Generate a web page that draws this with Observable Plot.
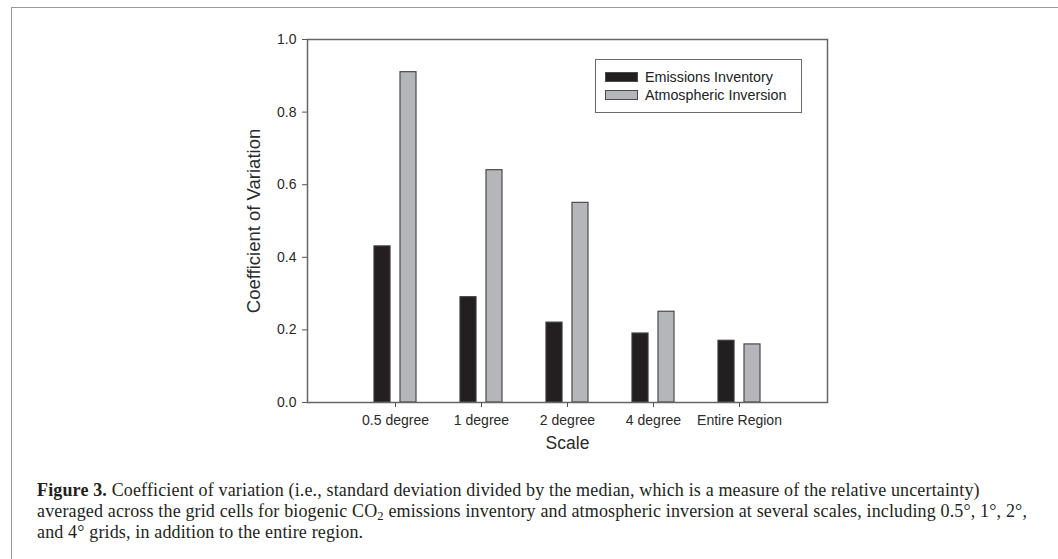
<!DOCTYPE html>
<html>
<head>
<meta charset="utf-8">
<script src="https://cdn.jsdelivr.net/npm/d3@7"></script>
<script src="https://cdn.jsdelivr.net/npm/@observablehq/plot@0.6"></script>
<style>
  html, body { margin: 0; padding: 0; background: #fff; }
  #page { position: relative; width: 1058px; height: 559px; overflow: hidden; background: #fff; }
  #border { position: absolute; left: 11px; top: 7px; width: 1100px; height: 600px;
            border-left: 1.5px solid #9a9a9a; border-top: 1.5px solid #9a9a9a; }
  #chart { position: absolute; left: 227px; top: 19px; }
  #legend { position: absolute; left: 595px; top: 59px; width: 207px; height: 54px;
            border: 1.5px solid #6a6a6a; box-sizing: border-box;
            font-family: "Liberation Sans", Arial, sans-serif; font-size: 14.3px; color: #222; }
  .item { position: absolute; left: 9px; height: 18px; display: flex; align-items: center; }
  .sw { width: 33px; height: 10px; box-sizing: border-box; border: 1.2px solid #4a4a4a; margin-right: 7px; }
  #caption { position: absolute; left: 37px; top: 480px; width: 1015px;
             font-family: "Liberation Serif", "Times New Roman", serif; font-size: 18px;
             letter-spacing: 0.15px; line-height: 21px; color: #231f20; white-space: nowrap; }
  #caption b { font-weight: bold; }
  sub { font-size: 70%; vertical-align: -0.25em; line-height: 0; }
</style>
</head>
<body>
<div id="page">
  <div id="border"></div>
  <div id="chart"></div>
  <div id="legend">
    <div class="item" style="top:8px"><div class="sw" id="sw1"></div><span id="lab1"></span></div>
    <div class="item" style="top:26px"><div class="sw" id="sw2"></div><span id="lab2"></span></div>
  </div>
  <div id="caption"><b>Figure 3.</b> Coefficient of variation (i.e., standard deviation divided by the median, which is a measure of the relative uncertainty)<br>averaged across the grid cells for biogenic CO<sub>2</sub> emissions inventory and atmospheric inversion at several scales, including 0.5°, 1°, 2°,<br>and 4° grids, in addition to the entire region.</div>
</div>
<script>
const scales = ["0.5 degree", "1 degree", "2 degree", "4 degree", "Entire Region"];
const inventory = [0.43, 0.29, 0.22, 0.19, 0.17];
const inversion = [0.91, 0.64, 0.55, 0.25, 0.16];
const seriesNames = ["Emissions Inventory", "Atmospheric Inversion"];
const seriesColors = ["#231f20", "#b4b6b9"];
const yTicks = [0, 0.2, 0.4, 0.6, 0.8, 1.0];

const invData = scales.map((s, i) => ({scale: s, value: inventory[i]}));
const atmData = scales.map((s, i) => ({scale: s, value: inversion[i]}));

const pi = 0.5154;
const chart = Plot.plot({
  width: 620,
  height: 443,
  marginLeft: 80,
  marginRight: 20,
  marginTop: 20,
  marginBottom: 60,
  style: {fontFamily: "'Liberation Sans', Arial, sans-serif", color: "#2a2a2a", background: "transparent"},
  x: {type: "band", domain: scales, paddingInner: pi, paddingOuter: (1 + pi) / 2},
  y: {domain: [0, 1]},
  marks: [
    Plot.barY(invData, {x: "scale", y: "value", fill: seriesColors[0], stroke: "#3a3a3a", strokeWidth: 1.2, insetRight: 26}),
    Plot.barY(atmData, {x: "scale", y: "value", fill: seriesColors[1], stroke: "#4a4a4a", strokeWidth: 1.2, insetLeft: 26}),
    Plot.frame({stroke: "#666", strokeWidth: 1.5}),
    Plot.axisX({tickSize: 5, tickPadding: 8, fontSize: 14, stroke: "#555", label: "Scale", labelAnchor: "center", labelOffset: 46, labelArrow: "none"}),
    Plot.axisY({ticks: yTicks, tickFormat: d3.format(".1f"), tickSize: 5, tickPadding: 6, fontSize: 14, stroke: "#555",
                label: "Coefficient of Variation", labelAnchor: "center", labelOffset: 61, labelArrow: "none"})
  ]
});
document.getElementById("chart").appendChild(chart);
chart.querySelectorAll('[aria-label="x-axis label"] text').forEach(t => {
  t.setAttribute("font-size", "17.5");
  t.style.fontSize = "17.5px";
});
chart.querySelectorAll('[aria-label="y-axis label"] text').forEach(t => {
  t.setAttribute("font-size", "18.5");
  t.style.fontSize = "18.5px";
});

document.getElementById("sw1").style.background = seriesColors[0];
document.getElementById("sw2").style.background = seriesColors[1];
document.getElementById("lab1").textContent = seriesNames[0];
document.getElementById("lab2").textContent = seriesNames[1];
</script>
</body>
</html>
